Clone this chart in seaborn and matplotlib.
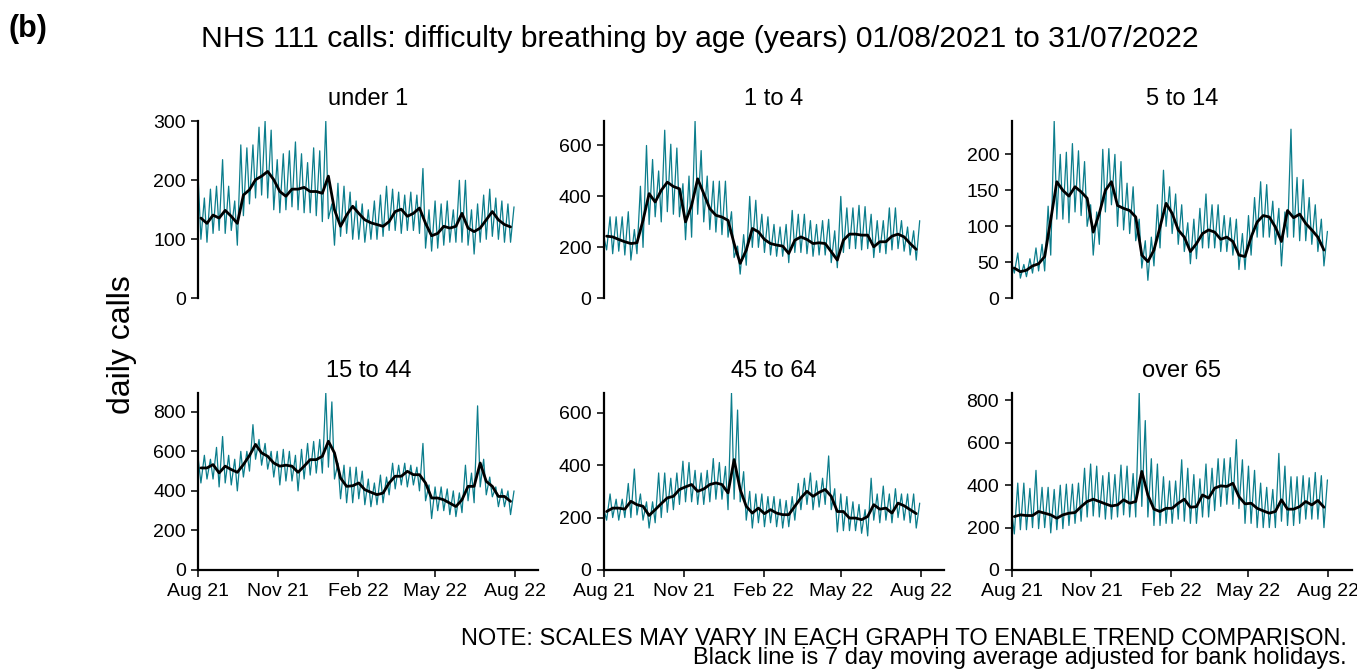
import matplotlib
matplotlib.use("Agg")
import matplotlib.pyplot as plt
import matplotlib.dates as mdates
import numpy as np
import pandas as pd
import seaborn as sns

# NHS 111 calls, difficulty breathing, 01/08/2021 to 31/07/2022
# values: weekend peak (Sundays), mid-week low (Wednesdays)
# and the 7 day moving average (Wednesdays)
groups = ["under 1", "1 to 4", "5 to 14", "15 to 44", "45 to 64", "over 65"]

peaks_under1 = [200, 170, 185, 190, 235, 190, 165, 260, 255, 260,
                290, 300, 285, 235, 245, 250, 265, 245, 230, 255,
                250, 300, 160, 195, 190, 180, 165, 160, 150, 165,
                175, 190, 185, 180, 175, 180, 175, 220, 150, 165,
                160, 165, 150, 200, 200, 150, 160, 175, 185, 170,
                165, 160, 155]
lows_under1 = [100, 95, 110, 115, 110, 115, 90, 140, 160, 170,
               175, 170, 150, 145, 150, 155, 150, 145, 145, 140,
               130, 135, 90, 105, 110, 100, 100, 95, 100, 100,
               105, 115, 115, 110, 115, 115, 110, 85, 80, 85,
               90, 95, 95, 95, 90, 75, 95, 100, 105, 100,
               95, 95]
avg_under1 = [136, 127, 141, 136, 149, 139, 127, 175, 184, 201,
              207, 215, 201, 181, 173, 185, 185, 188, 181, 181,
              178, 207, 150, 122, 141, 156, 144, 133, 128, 125,
              122, 130, 147, 151, 139, 144, 153, 127, 106, 110,
              122, 119, 122, 144, 119, 113, 119, 133, 147, 133,
              125, 121]

peaks_1to4 = [240, 320, 320, 320, 340, 270, 440, 600, 545, 500,
              660, 605, 590, 450, 480, 695, 580, 480, 460, 460,
              460, 340, 205, 250, 400, 385, 330, 320, 290, 280,
              290, 345, 330, 330, 305, 290, 305, 310, 265, 400,
              355, 355, 365, 360, 330, 305, 305, 355, 355, 305,
              280, 265, 305]
lows_1to4 = [190, 175, 185, 170, 150, 175, 200, 290, 320, 300,
             340, 330, 320, 230, 240, 330, 300, 270, 260, 250,
             240, 160, 95, 130, 200, 200, 180, 170, 165, 165,
             140, 180, 180, 175, 165, 170, 170, 140, 120, 180,
             195, 195, 190, 195, 160, 180, 175, 190, 195, 185,
             170, 150]
avg_1to4 = [244, 241, 231, 222, 215, 218, 306, 411, 378, 424,
            456, 439, 430, 300, 365, 469, 411, 352, 326, 319,
            306, 215, 137, 189, 274, 261, 231, 215, 209, 205,
            176, 228, 241, 231, 215, 218, 215, 183, 150, 228,
            252, 252, 248, 248, 202, 222, 222, 244, 252, 241,
            215, 192]

peaks_5to14 = [50, 63, 47, 55, 70, 75, 128, 246, 200, 203,
               215, 205, 190, 130, 120, 207, 208, 200, 190, 160,
               155, 110, 80, 85, 130, 178, 155, 145, 130, 105,
               110, 125, 145, 130, 130, 115, 112, 110, 90, 115,
               140, 162, 158, 135, 125, 120, 235, 168, 165, 140,
               130, 110, 93]
lows_5to14 = [35, 28, 30, 35, 38, 38, 60, 110, 110, 105,
              120, 115, 100, 60, 75, 120, 130, 100, 95, 90,
              80, 42, 25, 45, 70, 100, 90, 75, 65, 48,
              55, 70, 70, 70, 65, 65, 60, 40, 40, 60,
              85, 85, 85, 75, 45, 85, 85, 80, 80, 75,
              65, 45]
avg_5to14 = [42, 37, 39, 45, 48, 58, 109, 162, 150, 142,
             155, 148, 139, 92, 118, 150, 162, 129, 125, 122,
             113, 60, 51, 67, 99, 132, 118, 95, 85, 65,
             76, 90, 95, 92, 82, 85, 79, 60, 58, 85,
             106, 115, 113, 99, 79, 122, 112, 117, 104, 95,
             85, 67]

peaks_15to44 = [560, 580, 560, 620, 675, 580, 560, 600, 600, 735,
                660, 640, 600, 600, 610, 600, 580, 610, 640, 650,
                660, 895, 850, 540, 530, 520, 520, 500, 460, 440,
                480, 470, 540, 530, 540, 530, 520, 640, 430, 420,
                420, 410, 400, 390, 530, 490, 830, 560, 470, 420,
                410, 400, 400]
lows_15to44 = [440, 460, 460, 420, 440, 430, 400, 470, 500, 560,
               530, 510, 470, 430, 450, 450, 400, 460, 480, 490,
               490, 520, 460, 360, 340, 340, 360, 330, 320, 330,
               340, 380, 410, 430, 420, 430, 400, 350, 260, 300,
               300, 280, 270, 290, 350, 340, 420, 380, 370, 320,
               320, 280]
avg_15to44 = [516, 516, 533, 491, 525, 508, 494, 533, 579, 635,
              592, 575, 541, 525, 530, 525, 494, 525, 558, 558,
              575, 651, 592, 465, 423, 426, 440, 406, 393, 381,
              389, 440, 474, 474, 499, 482, 482, 440, 364, 364,
              355, 338, 321, 355, 423, 423, 541, 448, 423, 372,
              372, 347]

peaks_45to64 = [230, 290, 270, 270, 330, 385, 290, 260, 260, 370,
                370, 350, 370, 415, 410, 380, 370, 380, 425, 410,
                395, 675, 610, 375, 300, 290, 290, 280, 280, 270,
                265, 280, 330, 350, 370, 340, 350, 435, 310, 290,
                280, 260, 250, 230, 350, 290, 320, 290, 310, 290,
                290, 290, 255]
lows_45to64 = [190, 200, 190, 200, 200, 210, 190, 160, 180, 200,
               220, 230, 250, 260, 260, 250, 250, 260, 270, 270,
               230, 270, 260, 190, 160, 180, 165, 180, 165, 160,
               165, 190, 230, 250, 230, 240, 250, 230, 145, 150,
               150, 150, 140, 130, 190, 180, 190, 180, 200, 190,
               180, 160]
avg_45to64 = [223, 236, 236, 232, 262, 249, 243, 208, 230, 253,
              275, 281, 307, 317, 326, 300, 309, 326, 332, 326,
              294, 421, 307, 243, 217, 236, 215, 230, 217, 211,
              211, 243, 275, 300, 281, 296, 307, 281, 223, 223,
              198, 198, 192, 204, 249, 232, 236, 217, 255, 245,
              230, 215]

peaks_over65 = [280, 410, 410, 385, 470, 390, 390, 380, 400, 405,
                405, 410, 480, 500, 490, 445, 460, 450, 495, 490,
                455, 835, 705, 525, 500, 440, 420, 420, 520, 480,
                450, 430, 500, 480, 525, 525, 530, 615, 520, 490,
                470, 410, 390, 380, 550, 490, 440, 440, 445, 435,
                460, 445, 425]
lows_over65 = [170, 190, 190, 200, 195, 200, 175, 190, 195, 210,
               220, 230, 250, 255, 250, 240, 240, 250, 260, 250,
               250, 300, 250, 210, 210, 220, 220, 240, 230, 220,
               220, 250, 250, 280, 300, 310, 310, 290, 220, 220,
               200, 200, 200, 200, 230, 210, 210, 220, 240, 240,
               240, 200]
avg_over65 = [252, 260, 257, 257, 276, 268, 260, 244, 260, 268,
              271, 299, 323, 334, 323, 312, 302, 307, 331, 315,
              323, 465, 354, 287, 276, 291, 291, 315, 334, 296,
              299, 354, 339, 386, 397, 394, 409, 346, 312, 315,
              291, 279, 268, 276, 331, 287, 287, 299, 323, 307,
              328, 296]

all_peaks = [peaks_under1, peaks_1to4, peaks_5to14, peaks_15to44, peaks_45to64, peaks_over65]
all_lows = [lows_under1, lows_1to4, lows_5to14, lows_15to44, lows_45to64, lows_over65]
all_avg = [avg_under1, avg_1to4, avg_5to14, avg_15to44, avg_45to64, avg_over65]
y_steps = [100, 200, 50, 200, 200, 200]

start = pd.Timestamp("2021-08-01")


def raw_frame(peaks, lows):
    p = pd.DataFrame({"date": start + pd.to_timedelta(7 * np.arange(len(peaks)), unit="D"), "calls": peaks})
    t = pd.DataFrame({"date": start + pd.to_timedelta(7 * np.arange(len(lows)) + 3, unit="D"), "calls": lows})
    return pd.concat([p, t]).sort_values("date")


def avg_frame(avg):
    return pd.DataFrame({"date": start + pd.to_timedelta(7 * np.arange(len(avg)) + 3, unit="D"), "calls": avg})


sns.set_style("ticks")
plt.rcParams["font.family"] = ["Liberation Sans", "DejaVu Sans"]
plt.rcParams["text.color"] = "black"

W, H = 1357, 670
fig = plt.figure(figsize=(W / 100, H / 100), dpi=100)

teal = "#0b7d8c"
lefts = [198.3, 604.0, 1011.7]
bottoms = [298.3, 570.0]
ax_w, ax_h = 340.0, 177.0
tick_dates = pd.to_datetime(["2021-08-01", "2021-11-01", "2022-02-01", "2022-05-01", "2022-08-01"])

for i, name in enumerate(groups):
    row, col = divmod(i, 3)
    ax = fig.add_axes([lefts[col] / W, 1 - bottoms[row] / H, ax_w / W, ax_h / H])
    sns.lineplot(data=raw_frame(all_peaks[i], all_lows[i]), x="date", y="calls", ax=ax,
                 color=teal, lw=0.9, estimator=None)
    sns.lineplot(data=avg_frame(all_avg[i]), x="date", y="calls", ax=ax,
                 color="black", lw=2.0, estimator=None)
    top = max(all_peaks[i])
    ax.set_ylim(0, top)
    ax.set_yticks(np.arange(0, top + 1, y_steps[i]))
    ax.set_xlim(start, pd.Timestamp("2022-08-28"))
    ax.set_title(name, fontsize=17, pad=11.5, color="black")
    ax.set_xlabel("")
    ax.set_ylabel("")
    for s in ["top", "right"]:
        ax.spines[s].set_visible(False)
    for s in ["left", "bottom"]:
        ax.spines[s].set_linewidth(1.6)
        ax.spines[s].set_color("black")
    ax.tick_params(axis="both", labelsize=14, length=5, width=1.4, color="#333333",
                   labelcolor="black", pad=4)
    ax.set_xticks(tick_dates)
    ax.xaxis.set_major_formatter(mdates.DateFormatter("%b %y"))
    if row == 0:
        ax.spines["bottom"].set_visible(False)
        ax.tick_params(axis="x", bottom=False, labelbottom=False)

fig.text(8 / W, 1 - 36.7 / H, "(b)", fontsize=22, fontweight="bold", ha="left", va="baseline")
fig.text(700 / W, 1 - 46.7 / H,
         "NHS 111 calls: difficulty breathing by age (years) 01/08/2021 to 31/07/2022",
         fontsize=21.7, ha="center", va="baseline")
fig.text(122 / W, 1 - 345 / H, "daily calls", fontsize=23, rotation=90, ha="center", va="center")
fig.text(1347 / W, 1 - 669 / H,
         "NOTE: SCALES MAY VARY IN EACH GRAPH TO ENABLE TREND COMPARISON.\n"
         "Black line is 7 day moving average adjusted for bank holidays.",
         fontsize=17, ha="right", va="bottom", multialignment="right", linespacing=0.85)

fig.savefig("out.png", dpi=100)
